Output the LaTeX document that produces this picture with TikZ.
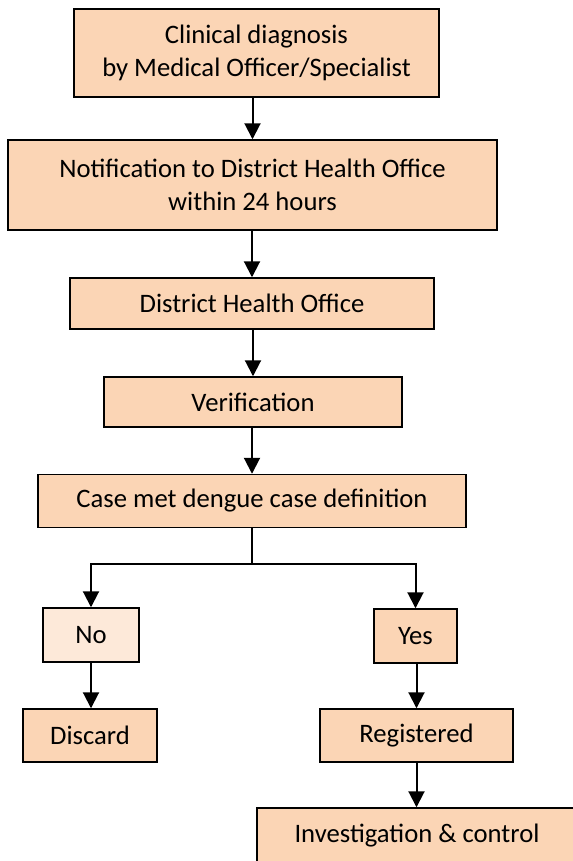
\documentclass[tikz,border=0pt]{standalone}
\usepackage{fontspec}
\setmainfont{Carlito}
\usepackage{tikz}
\usetikzlibrary{arrows.meta,positioning,calc}
\definecolor{peach}{HTML}{FBD5B5}
\definecolor{lightpeach}{HTML}{FDE9D9}

\tikzset{
  stepbox/.style={draw=black, line width=1.1pt, fill=peach, align=center,
    inner sep=0pt, font=\fontsize{20}{25}\selectfont},
  flowarrow/.style={line width=1.5pt, -{Triangle[length=12pt,width=12pt]}}
}

\begin{document}
\begin{tikzpicture}[x=0.75pt, y=-0.75pt]
  \useasboundingbox (0,0) rectangle (573,861);

  % main column
  \node[stepbox, minimum width=365*0.75pt, minimum height=88*0.75pt] (clin) at (256.5,53)
    {Clinical diagnosis\\by Medical Officer/Specialist};
  \node[stepbox, minimum width=489*0.75pt, minimum height=90*0.75pt] (notif) at (252.5,185)
    {Notification to District Health Office\\within 24 hours};
  \node[stepbox, minimum width=364*0.75pt, minimum height=51*0.75pt] (dho) at (252,303.5)
    {District Health Office};
  \node[stepbox, minimum width=298*0.75pt, minimum height=50*0.75pt] (verif) at (253,402)
    {Verification};
  \node[stepbox, minimum width=428*0.75pt, minimum height=53*0.75pt] (casedef) at (252,501)
    {Case met dengue case definition};

  % No branch
  \node[stepbox, fill=lightpeach, minimum width=96*0.75pt, minimum height=54*0.75pt] (no) at (91,635)
    {No};
  \node[stepbox, minimum width=134*0.75pt, minimum height=53*0.75pt] (discard) at (90,735.5)
    {Discard};

  % Yes branch
  \node[stepbox, minimum width=83*0.75pt, minimum height=54*0.75pt] (yes) at (415.5,636)
    {Yes};
  \node[stepbox, minimum width=193*0.75pt, minimum height=53*0.75pt] (reg) at (416.5,735.5)
    {Registered};
  \node[stepbox, minimum width=320*0.75pt, minimum height=56*0.75pt] (invest) at (417,836)
    {Investigation \& control};

  % arrows
  \draw[flowarrow] (notif.north |- clin.south) -- (notif.north);
  \draw[flowarrow] (notif.south -| dho.north) -- (dho.north);
  \draw[flowarrow] (dho.south -| verif.north) -- (verif.north);
  \draw[flowarrow] (verif.south -| casedef.north) -- (casedef.north);
  \coordinate (split) at ($(casedef.south)+(0,36)$);
  \draw[line width=1.5pt] (casedef.south) -- (split);
  \draw[flowarrow] (split) -| (no.north);
  \draw[flowarrow] (split) -| (yes.north);
  \draw[flowarrow] (no.south) -- (no.south |- discard.north);
  \draw[flowarrow] (yes.south -| reg.north) -- (reg.north);
  \draw[flowarrow] (reg.south) -- (reg.south |- invest.north);
\end{tikzpicture}
\end{document}
